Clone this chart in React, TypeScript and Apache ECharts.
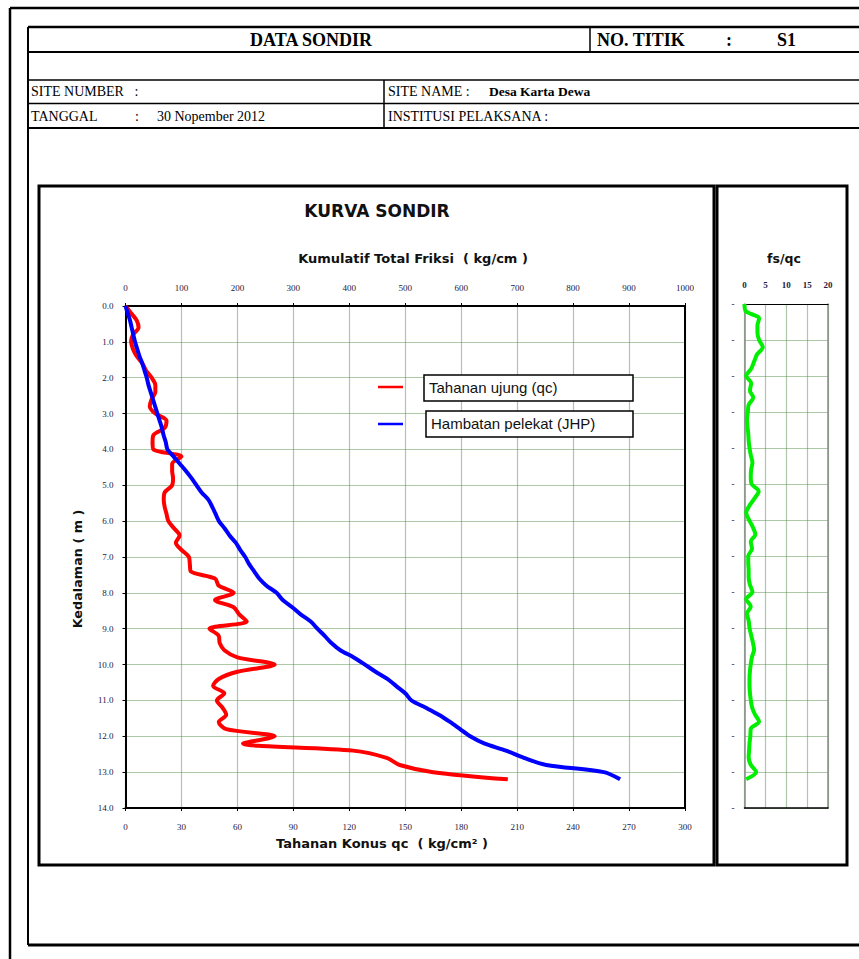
import React, { useEffect, useRef } from "react";
import * as echarts from "echarts";

// ---- data ----
const depth: number[] = [
  0, 0.2, 0.4, 0.6, 0.8, 1.0, 1.2, 1.4, 1.6, 1.8, 2.0, 2.2, 2.4, 2.6, 2.8, 3.0, 3.2, 3.4, 3.6, 3.8,
  4.0, 4.2, 4.4, 4.6, 4.8, 5.0, 5.2, 5.4, 5.6, 5.8, 6.0, 6.2, 6.4, 6.6, 6.8, 7.0, 7.2, 7.4, 7.6, 7.8,
  8.0, 8.2, 8.4, 8.6, 8.8, 9.0, 9.2, 9.4, 9.6, 9.8, 10.0, 10.2, 10.4, 10.6, 10.8, 11.0, 11.2, 11.4,
  11.6, 11.8, 12.0, 12.2, 12.4, 12.6, 12.8, 13.0, 13.2,
];
// Tahanan ujung qc (kg/cm2)
const qcValues: number[] = [
  0, 3, 6, 7, 4, 3, 4, 6, 9, 11, 14, 16, 16, 14, 13, 16, 22, 21, 15, 14.5,
  15, 30, 25, 25, 25.5, 25, 21, 20.5, 21, 22, 23, 26, 29, 27, 30, 34, 34.5, 35, 48, 50,
  58, 48, 58, 61, 65, 45, 50, 50.5, 53, 60, 80, 60, 50, 47, 53, 49, 52, 54,
  50, 54, 80, 63, 122, 140, 147, 165, 205,
];
// Hambatan pelekat JHP (kg/cm)
const jhpValues: number[] = [
  0, 4, 8, 11, 14, 17, 21, 25, 30, 34, 38, 41, 45, 49, 53, 57, 61, 65, 68, 72,
  75, 86, 97, 108, 118, 127, 136, 148, 155, 161, 167, 177, 186, 197, 205, 214, 221, 230, 239, 252,
  270, 281, 298, 313, 331, 343, 356, 368, 384, 408, 428, 447, 468, 484, 500, 511, 536, 560,
  580, 598, 616, 641, 680, 712, 752, 855, 884,
];
// fs/qc (%)
const fsqcValues: number[] = [
  0, 0.3, 3.5, 3.1, 3.1, 3.5, 4.4, 3.0, 2.3, 1.6, 0.4, 1.6, 1.3, 2.1, 1.0, 0.8, 0.6, 0.7, 0.9, 1.0,
  1.2, 1.5, 1.9, 1.6, 1.5, 1.7, 3.4, 2.4, 1.2, 0.4, 1.1, 2.0, 2.6, 1.5, 1.8, 0.9, 0.9, 1.0, 1.0, 1.3,
  1.9, 0.4, 1.5, 0.6, 1.0, 1.2, 1.6, 2.0, 2.3, 1.8, 1.5, 1.3, 1.2, 1.2, 1.3, 1.5, 1.8, 2.5,
  3.5, 1.5, 1.4, 1.2, 1.1, 1.0, 1.5, 2.8, 0.4,
];

const qcTicks = { min: 0, max: 300, interval: 30 };
const jhpTicks = { min: 0, max: 1000, interval: 100 };
const fsqcTicks = { min: 0, max: 20, interval: 5 };
const depthTicks = { min: 0, max: 14, interval: 1 };

const seriesNames = ["Tahanan ujung (qc)", "Hambatan pelekat (JHP)"];

const GRID_GREEN = "rgba(90,145,80,0.5)";
const LABEL_FONT = "Liberation Serif";
const TITLE_FONT = "DejaVu Sans";

function txt(x: number, y: number, text: string, opts: any = {}) {
  const { size = 12, weight = "normal", family = LABEL_FONT, align = "left", color = "#000", rotation } = opts;
  const el: any = {
    type: "text",
    x,
    y,
    silent: true,
    z: 100,
    style: {
      text,
      x: 0,
      y: 0,
      fill: color,
      fontSize: size,
      fontWeight: weight,
      fontFamily: family,
      align,
      textAlign: align,
      verticalAlign: "middle",
      textVerticalAlign: "middle",
    },
  };
  if (rotation !== undefined) el.rotation = rotation;
  return el;
}

function ln(x1: number, y1: number, x2: number, y2: number, w = 2, color = "#000") {
  return {
    type: "line",
    silent: true,
    z: 50,
    shape: { x1, y1, x2, y2 },
    style: { stroke: color, lineWidth: w },
  };
}

function box(x: number, y: number, w: number, h: number, lw = 3, fill = "transparent", z = 1) {
  return {
    type: "rect",
    silent: true,
    z,
    shape: { x, y, width: w, height: h },
    style: { fill, stroke: "#000", lineWidth: lw },
  };
}

export default function App() {
  const ref = useRef<HTMLDivElement>(null);

  useEffect(() => {
    if (!ref.current) return;
    const chart = echarts.init(ref.current, null, { renderer: "svg" });

    const axisLabelBase = { fontSize: 9, fontFamily: LABEL_FONT, color: "#1e2040" };
    const plain = (v: number) => String(v);

    const option: any = {
      animation: false,
      backgroundColor: "#fff",
      grid: [
        { left: 125.5, top: 306, width: 559.5, height: 502 },
        { left: 744.5, top: 304, width: 83.5, height: 504 },
      ],
      xAxis: [
        {
          gridIndex: 0,
          type: "value",
          position: "bottom",
          ...qcTicks,
          axisLine: { show: true, onZero: false, lineStyle: { color: "#000", width: 2 } },
          axisTick: { show: true, length: 3, lineStyle: { color: "#000" } },
          axisLabel: { ...axisLabelBase, margin: 14, formatter: plain },
          splitLine: { show: true, lineStyle: { color: GRID_GREEN, width: 1.2 } },
        },
        {
          gridIndex: 0,
          type: "value",
          position: "top",
          ...jhpTicks,
          axisLine: { show: true, onZero: false, lineStyle: { color: "#000", width: 2 } },
          axisTick: { show: true, length: 3, lineStyle: { color: "#000" } },
          axisLabel: { ...axisLabelBase, margin: 14, formatter: plain },
          splitLine: { show: false },
        },
        {
          gridIndex: 1,
          type: "value",
          position: "top",
          ...fsqcTicks,
          axisLine: { show: true, onZero: false, lineStyle: { color: "#000", width: 1.2 } },
          axisTick: { show: false },
          axisLabel: { ...axisLabelBase, fontWeight: "bold", margin: 15, formatter: plain },
          splitLine: { show: true, lineStyle: { color: GRID_GREEN, width: 1.2 } },
        },
        {
          gridIndex: 1,
          type: "value",
          position: "bottom",
          ...fsqcTicks,
          axisLine: { show: true, onZero: false, lineStyle: { color: "#000", width: 1.5 } },
          axisTick: { show: false },
          axisLabel: { show: false },
          splitLine: { show: false },
        },
      ],
      yAxis: [
        {
          gridIndex: 0,
          type: "value",
          inverse: true,
          ...depthTicks,
          axisLine: { show: true, onZero: false, lineStyle: { color: "#000", width: 2 } },
          axisTick: { show: true, length: 3, lineStyle: { color: "#000" } },
          axisLabel: { ...axisLabelBase, margin: 12, formatter: (v: number) => v.toFixed(1) },
          splitLine: { show: true, lineStyle: { color: GRID_GREEN, width: 1.2 } },
        },
        {
          gridIndex: 0,
          type: "value",
          position: "right",
          inverse: true,
          ...depthTicks,
          axisLine: { show: true, onZero: false, lineStyle: { color: "#000", width: 2 } },
          axisTick: { show: false },
          axisLabel: { show: false },
          splitLine: { show: false },
        },
        {
          gridIndex: 1,
          type: "value",
          inverse: true,
          ...depthTicks,
          axisLine: { show: true, onZero: false, lineStyle: { color: "#888", width: 1.5 } },
          axisTick: { show: false },
          axisLabel: { ...axisLabelBase, fontWeight: "bold", margin: 10, formatter: () => "-" },
          splitLine: { show: true, lineStyle: { color: GRID_GREEN, width: 1.2 } },
        },
        {
          gridIndex: 1,
          type: "value",
          position: "right",
          inverse: true,
          ...depthTicks,
          axisLine: { show: true, onZero: false, lineStyle: { color: "#888", width: 1.5 } },
          axisTick: { show: false },
          axisLabel: { show: false },
          splitLine: { show: false },
        },
      ],
      series: [
        {
          name: seriesNames[0],
          type: "line",
          xAxisIndex: 0,
          yAxisIndex: 0,
          data: depth.map((d, i) => [qcValues[i], d]),
          smooth: 0.3,
          showSymbol: false,
          lineStyle: { color: "#ff0000", width: 4 },
          itemStyle: { color: "#ff0000" },
          z: 5,
        },
        {
          name: seriesNames[1],
          type: "line",
          xAxisIndex: 1,
          yAxisIndex: 0,
          data: depth.map((d, i) => [jhpValues[i], d]),
          smooth: 0.3,
          showSymbol: false,
          lineStyle: { color: "#0000ff", width: 4 },
          itemStyle: { color: "#0000ff" },
          z: 6,
        },
        {
          name: "fs/qc",
          type: "line",
          xAxisIndex: 2,
          yAxisIndex: 2,
          data: depth.map((d, i) => [fsqcValues[i], d]),
          smooth: 0.3,
          showSymbol: false,
          lineStyle: { color: "#00ee00", width: 4 },
          itemStyle: { color: "#00ee00" },
          z: 5,
        },
      ],
      graphic: [
        // outer frame
        ln(10, 8, 859, 8, 2.5),
        ln(10, 8, 10, 959, 2.5),
        // header table
        ln(28, 27, 859, 27, 2.5),
        ln(28, 27, 28, 945, 2),
        ln(28, 945, 859, 945, 3),
        ln(28, 52, 859, 52, 2),
        ln(28, 80, 859, 80, 1.5),
        ln(28, 103.5, 859, 103.5, 1.5),
        ln(28, 128, 859, 128, 2),
        ln(590, 27, 590, 52, 1.5),
        ln(384, 80, 384, 128, 1.5),
        txt(311, 40, "DATA SONDIR", { size: 18, weight: "bold", align: "center" }),
        txt(597, 40, "NO. TITIK", { size: 18, weight: "bold" }),
        txt(726, 40, ":", { size: 18, weight: "bold" }),
        txt(777, 40, "S1", { size: 18, weight: "bold" }),
        txt(31, 91, "SITE NUMBER   :", { size: 14 }),
        txt(388, 91, "SITE NAME :", { size: 14 }),
        txt(489, 91, "Desa Karta Dewa", { size: 13.5, weight: "bold" }),
        txt(31, 116, "TANGGAL", { size: 14 }),
        txt(135, 116, ":", { size: 14 }),
        txt(157, 116, "30 Nopember 2012", { size: 14 }),
        txt(388, 116, "INSTITUSI PELAKSANA :", { size: 14 }),
        // chart boxes
        box(39, 186, 675, 679, 3),
        box(717, 186, 130, 679, 3),
        // titles
        txt(377, 211, "KURVA SONDIR", { size: 17, weight: "bold", family: TITLE_FONT, align: "center", color: "#111" }),
        txt(413, 258, "Kumulatif Total Friksi  ( kg/cm )", { size: 13, weight: "bold", family: TITLE_FONT, align: "center", color: "#111" }),
        txt(382, 843, "Tahanan Konus qc  ( kg/cm² )", { size: 13, weight: "bold", family: TITLE_FONT, align: "center", color: "#111" }),
        txt(77, 569, "Kedalaman ( m )", { size: 12.8, weight: "bold", family: TITLE_FONT, align: "center", color: "#111", rotation: Math.PI / 2 }),
        txt(784, 258, "fs/qc", { size: 12.5, weight: "bold", family: TITLE_FONT, align: "center", color: "#111" }),
        // legend
        ln(378, 387, 403, 387, 2.5, "#ff0000"),
        box(424, 375, 209, 26, 1.5, "#fff", 90),
        txt(429, 387, seriesNames[0], { size: 15, family: "Liberation Sans", color: "#111" }),
        ln(378, 424, 403, 424, 2.5, "#0000ff"),
        box(426, 411, 207, 26, 1.5, "#fff", 90),
        txt(431, 423, seriesNames[1], { size: 15, family: "Liberation Sans", color: "#111" }),
      ],
    };

    chart.setOption(option);
    return () => chart.dispose();
  }, []);

  return (
    <div
      ref={ref}
      style={{ position: "absolute", left: 0, top: 0, width: 859, height: 959, background: "#fff" }}
    />
  );
}
